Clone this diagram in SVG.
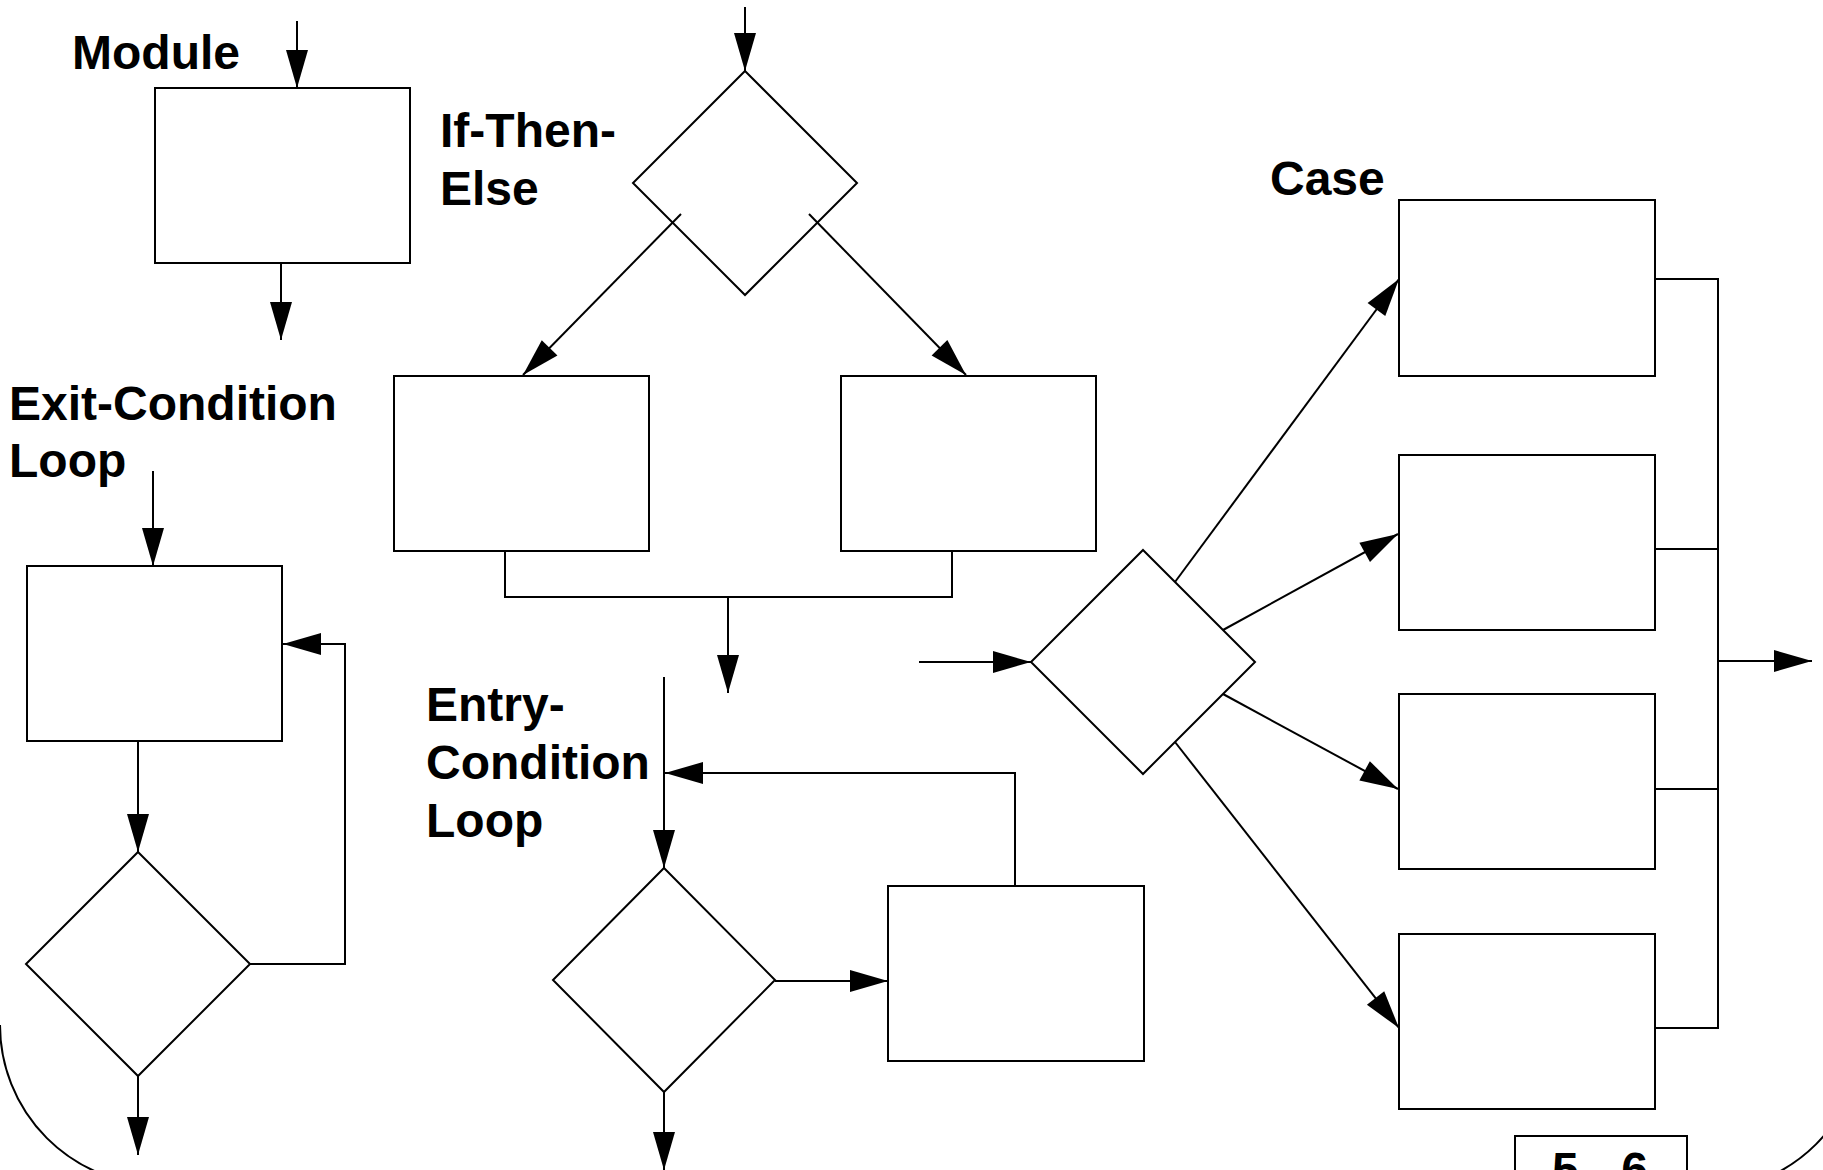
<svg xmlns="http://www.w3.org/2000/svg" width="1823" height="1170" viewBox="0 0 1823 1170">
<style>
.n{fill:#fff;stroke:#000;stroke-width:2}
.c{fill:none;stroke:#000;stroke-width:2}
.a{marker-end:url(#ah)}
.t{font-family:"Liberation Sans",Arial,sans-serif;font-weight:bold;font-size:48px;fill:#000}
</style>
<defs>
<marker id="ah" markerUnits="userSpaceOnUse" markerWidth="38" markerHeight="22" refX="38" refY="11" orient="auto" overflow="visible">
<path d="M0,0 L38,11 L0,22 Z" fill="#000"/>
</marker>
</defs>
<rect width="1823" height="1170" fill="#fff"/>
<g id="frame">
<path class="c" d="M0,1025 A160,160 0 0 0 160,1185"/>
<path class="c" d="M1863,1031 A160,160 0 0 1 1703,1191"/>
</g>
<g id="labels">
<text class="t" x="72" y="69">Module</text>
<text class="t" x="440" y="147">If-Then-</text>
<text class="t" x="440" y="205">Else</text>
<text class="t" x="1270" y="195">Case</text>
<text class="t" x="9" y="420">Exit-Condition</text>
<text class="t" x="9" y="477">Loop</text>
<text class="t" x="426" y="721">Entry-</text>
<text class="t" x="426" y="779">Condition</text>
<text class="t" x="426" y="837">Loop</text>
</g>
<g id="nodes">
<g id="module"><rect class="n" x="155" y="88" width="255" height="175"/></g>
<g id="if-decision"><polygon class="n" points="745,71 857,183 745,295 633,183"/></g>
<g id="if-then"><rect class="n" x="394" y="376" width="255" height="175"/></g>
<g id="if-else"><rect class="n" x="841" y="376" width="255" height="175"/></g>
<g id="exit-body"><rect class="n" x="27" y="566" width="255" height="175"/></g>
<g id="exit-decision"><polygon class="n" points="138,852 250,964 138,1076 26,964"/></g>
<g id="entry-decision"><polygon class="n" points="664,868 775,980 664,1092 553,980"/></g>
<g id="entry-body"><rect class="n" x="888" y="886" width="256" height="175"/></g>
<g id="case-decision"><polygon class="n" points="1143,550 1255,662 1143,774 1031,662"/></g>
<g id="case-1"><rect class="n" x="1399" y="200" width="256" height="176"/></g>
<g id="case-2"><rect class="n" x="1399" y="455" width="256" height="175"/></g>
<g id="case-3"><rect class="n" x="1399" y="694" width="256" height="175"/></g>
<g id="case-4"><rect class="n" x="1399" y="934" width="256" height="175"/></g>
<g id="page"><rect class="n" x="1515" y="1136" width="172" height="70"/><text class="t" x="1600" y="1186" text-anchor="middle">5 - 6</text></g>
</g>
<g id="connectors">
<line class="c a" x1="297" y1="21" x2="297" y2="88"/>
<line class="c a" x1="281" y1="263" x2="281" y2="340"/>
<line class="c a" x1="745" y1="7" x2="745" y2="71"/>
<line class="c a" x1="681" y1="214" x2="523" y2="375"/>
<line class="c a" x1="809" y1="214" x2="966" y2="375"/>
<polyline class="c" points="505,551 505,597 952,597 952,551"/>
<line class="c a" x1="728" y1="597" x2="728" y2="693"/>
<line class="c a" x1="153" y1="471" x2="153" y2="566"/>
<line class="c a" x1="138" y1="741" x2="138" y2="852"/>
<polyline class="c a" points="250,964 345,964 345,644 283,644"/>
<line class="c a" x1="138" y1="1076" x2="138" y2="1155"/>
<line class="c a" x1="664" y1="677" x2="664" y2="868"/>
<line class="c a" x1="775" y1="981" x2="888" y2="981"/>
<polyline class="c a" points="1015,886 1015,773 665,773"/>
<line class="c a" x1="664" y1="1092" x2="664" y2="1170"/>
<line class="c a" x1="919" y1="662" x2="1031" y2="662"/>
<line class="c a" x1="1175" y1="582" x2="1399" y2="279"/>
<line class="c a" x1="1223" y1="630" x2="1398" y2="534"/>
<line class="c a" x1="1223" y1="694" x2="1398" y2="789"/>
<line class="c a" x1="1175" y1="742" x2="1399" y2="1028"/>
<polyline class="c" points="1655,279 1718,279 1718,1028 1655,1028"/>
<line class="c" x1="1655" y1="549" x2="1718" y2="549"/>
<line class="c" x1="1655" y1="789" x2="1718" y2="789"/>
<line class="c a" x1="1718" y1="661" x2="1812" y2="661"/>
</g>
</svg>
